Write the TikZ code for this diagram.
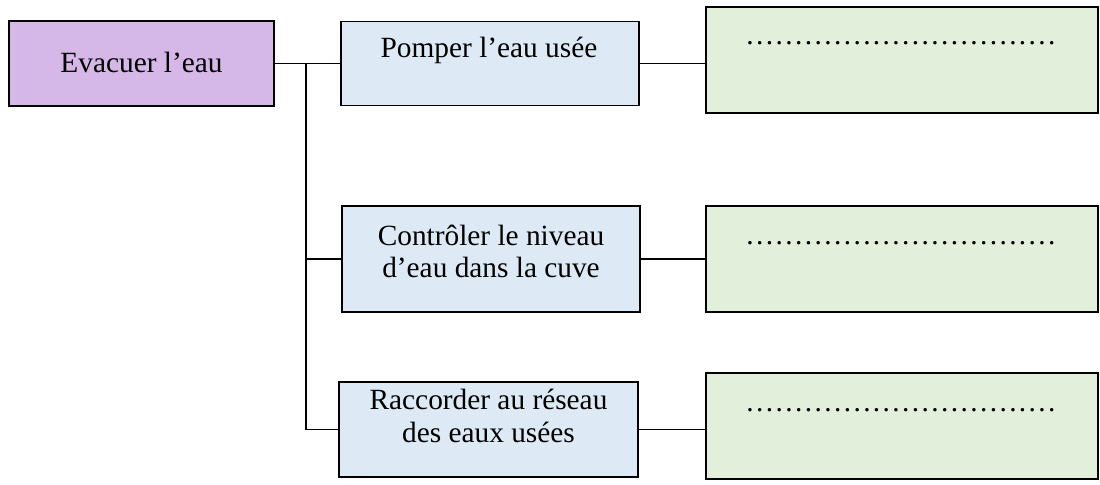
\documentclass[tikz,border=0pt]{standalone}
\usepackage{fontspec}
\setmainfont{Liberation Serif}
\definecolor{purplefill}{RGB}{213,184,232}
\definecolor{bluefill}{RGB}{221,234,246}
\definecolor{greenfill}{RGB}{226,239,218}
\newcommand{\dotrow}{\hbox to 240pt{\leaders\hbox to 7.3pt{\hss.\hss}\hfill}}
\begin{document}
\begin{tikzpicture}[x=0.75pt,y=-0.75pt,
  box/.style={draw=black,line width=1.4pt,rectangle,inner sep=0pt},
  mainbox/.style={box,fill=purplefill},
  funcbox/.style={box,fill=bluefill},
  solbox/.style={box,fill=greenfill},
  txt/.style={anchor=base,align=center,font=\fontsize{22}{24}\selectfont,inner sep=0pt},
  link/.style={line width=1.1pt}]
\useasboundingbox (0,0) rectangle (1100,485);
% boxes
\node[mainbox,minimum width=198.75pt,minimum height=63.75pt] (ev) at (141.5,63.5) {};
\node[funcbox,minimum width=223.5pt,minimum height=63pt] (p1) at (490,63.5) {};
\node[funcbox,minimum width=223.5pt,minimum height=79.5pt] (p2) at (491,259) {};
\node[funcbox,minimum width=224.25pt,minimum height=71.25pt] (p3) at (488.5,429.5) {};
\node[solbox,minimum width=294pt,minimum height=79.5pt] (g1) at (902,60) {};
\node[solbox,minimum width=294pt,minimum height=79.5pt] (g2) at (902,259) {};
\node[solbox,minimum width=294pt,minimum height=79.5pt] (g3) at (902,426) {};
% texts
\node[txt] (tev) at (141.5,73) {Evacuer l’eau};
\node[txt] (tp1) at (489,58) {Pomper l’eau usée};
\node[txt] (tp2a) at (491,245) {Contrôler le niveau};
\node[txt] (tp2b) at (491,277) {d’eau dans la cuve};
\node[txt] (tp3a) at (488.5,409) {Raccorder au réseau};
\node[txt] (tp3b) at (488.5,442) {des eaux usées};
\node[txt,anchor=base west] (tg1) at (745,45) {\dotrow};
\node[txt,anchor=base west] (tg2) at (745,244) {\dotrow};
\node[txt,anchor=base west] (tg3) at (745,411) {\dotrow};
% connectors
\coordinate (j) at (306,63.5);
\draw[link] (ev.east) -- (p1.west);
\draw[link] (j) |- (p3.west);
\draw[link] (j |- p2.west) -- (p2.west);
\draw[link] (p1.east) -- (p1.east -| g1.west);
\draw[link] (p2.east) -- (g2.west);
\draw[link] (p3.east) -- (p3.east -| g3.west);
\end{tikzpicture}
\end{document}
